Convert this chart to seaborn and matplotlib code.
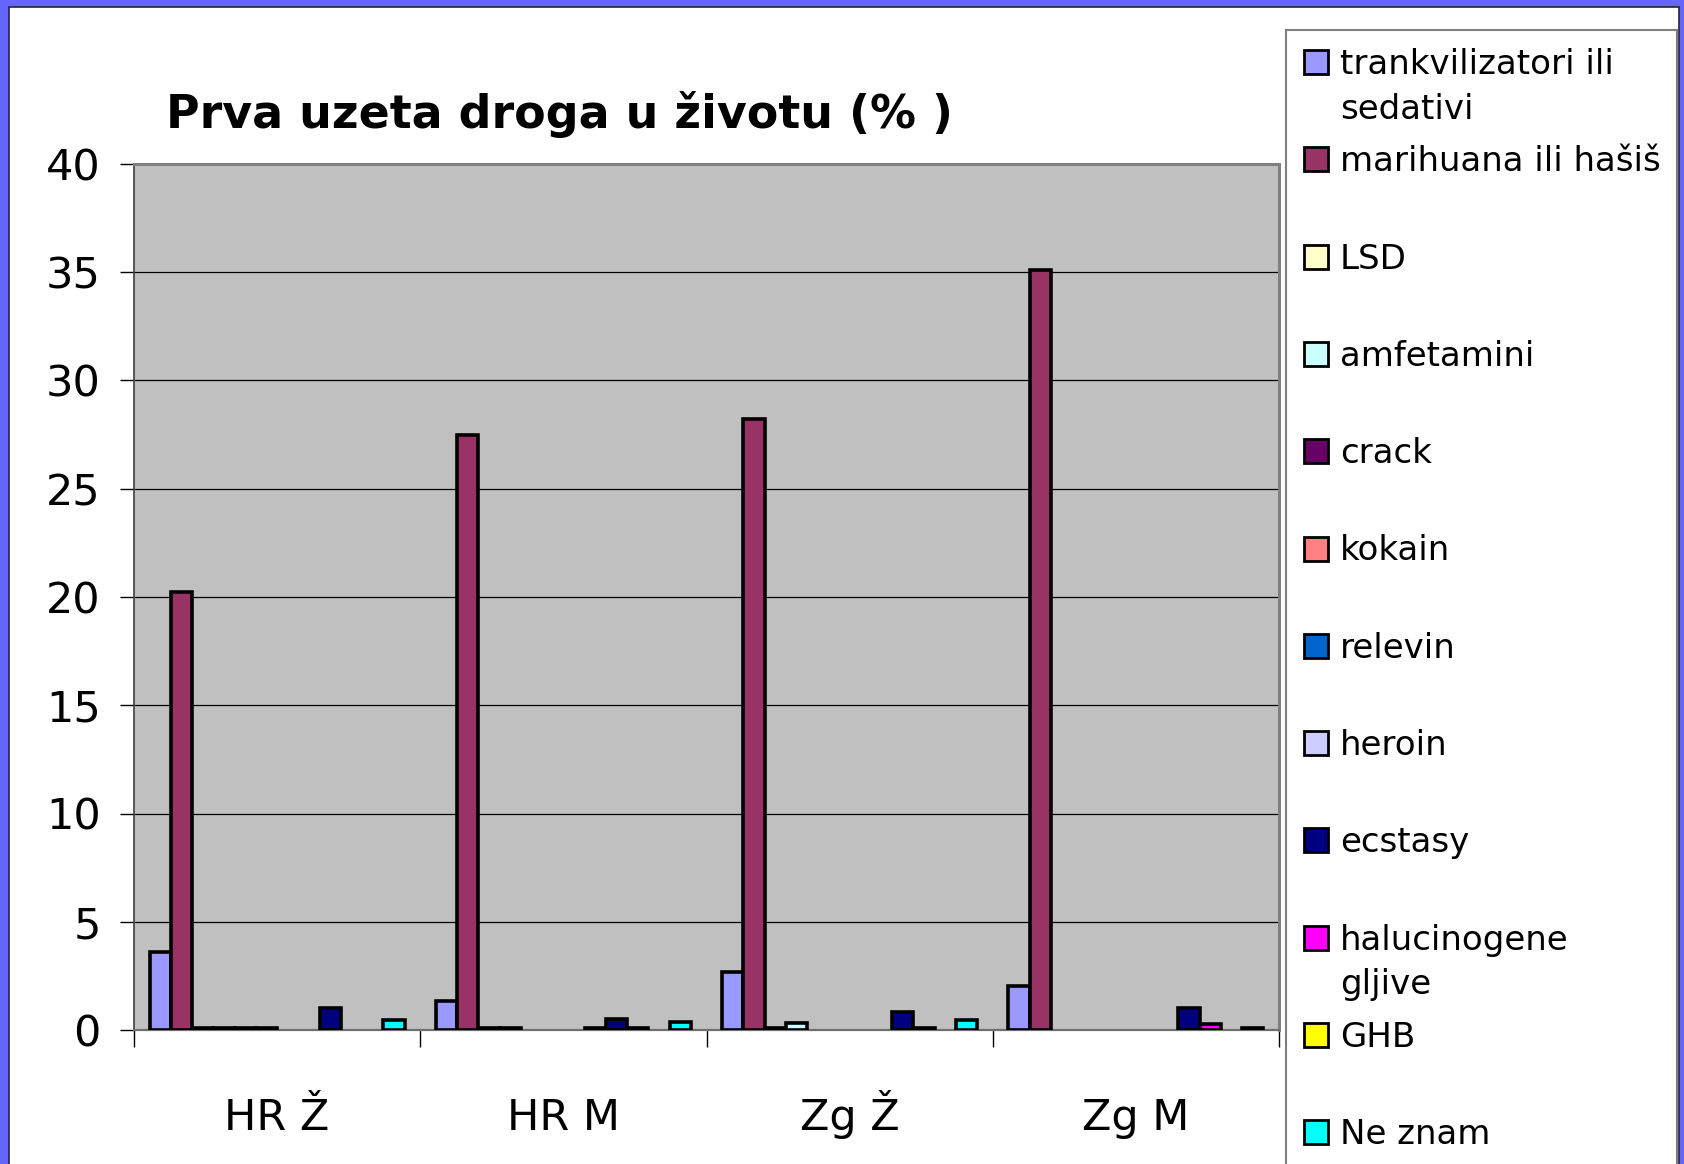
import pandas as pd
import seaborn as sns
import matplotlib.pyplot as plt
from matplotlib.patches import Rectangle

# groups on the x axis
groups = ["HR Ž", "HR M", "Zg Ž", "Zg M"]

# series (legend order) and their colours
drugs = ["trankvilizatori ili\nsedativi", "marihuana ili hašiš", "LSD", "amfetamini",
         "crack", "kokain", "relevin", "heroin", "ecstasy", "halucinogene\ngljive",
         "GHB", "Ne znam"]
colors = ["#9999FF", "#993366", "#FFFFCC", "#CCFFFF", "#660066", "#FF8080",
          "#0066CC", "#CCCCFF", "#000080", "#FF00FF", "#FFFF00", "#00FFFF"]

# percentages per drug, one value per group (HR Ž, HR M, Zg Ž, Zg M)
trankvilizatori = [3.6, 1.35, 2.7, 2.05]
marihuana = [20.25, 27.5, 28.2, 35.1]
lsd = [0.1, 0.1, 0.1, 0.0]
amfetamini = [0.1, 0.1, 0.32, 0.0]
crack = [0.1, 0.0, 0.0, 0.0]
kokain = [0.1, 0.0, 0.0, 0.0]
relevin = [0.0, 0.0, 0.0, 0.0]
heroin = [0.0, 0.1, 0.0, 0.0]
ecstasy = [1.0, 0.5, 0.85, 1.0]
halucinogene = [0.0, 0.1, 0.1, 0.3]
ghb = [0.0, 0.0, 0.0, 0.0]
ne_znam = [0.48, 0.35, 0.48, 0.1]

series = [trankvilizatori, marihuana, lsd, amfetamini, crack, kokain, relevin,
          heroin, ecstasy, halucinogene, ghb, ne_znam]

rows = []
for name, vals in zip(drugs, series):
    for g, v in zip(groups, vals):
        rows.append({"grupa": g, "droga": name, "posto": v})
df = pd.DataFrame(rows)

sns.set_style("white")
plt.rcParams["font.family"] = ["DejaVu Sans"]
plt.rcParams["text.color"] = "black"
plt.rcParams["xtick.color"] = "black"
plt.rcParams["ytick.color"] = "black"

W, H = 1684, 1164
fig = plt.figure(figsize=(W / 100, H / 100), dpi=100)
fig.patch.set_facecolor("#6666FF")
fig.add_artist(Rectangle((9 / W, -0.01), 1670 / W, 1 - 7 / H + 0.01,
                         transform=fig.transFigure, facecolor="white",
                         edgecolor="#222244", linewidth=1.2, zorder=-10))

ax = fig.add_axes([134 / W, 1 - 1030 / H, (1279 - 134) / W, (1030 - 164) / H])
ax.set_facecolor("#C0C0C0")

sns.barplot(data=df, x="grupa", y="posto", hue="droga", hue_order=drugs,
            order=groups, palette=colors, edgecolor="black", linewidth=2.6,
            width=0.89, saturation=1, legend=False, ax=ax, zorder=3)
for p in ax.patches:
    if p.get_height() == 0:
        p.set_visible(False)

ax.set_ylim(0, 40)
ax.set_xlim(-0.5, 3.5)
ax.set_yticks(range(0, 41, 5))
ax.yaxis.grid(True, color="black", linewidth=0.9, zorder=1)
ax.set_axisbelow(True)
ax.set_xlabel("")
ax.set_ylabel("")

ax.tick_params(axis="y", labelsize=31, length=10, width=1, color="black",
               direction="out", pad=14, left=True)
ax.set_xticks(range(len(groups)))
ax.set_xticklabels(groups)
ax.tick_params(axis="x", which="major", labelsize=31, length=0, pad=72)
for lab in ax.get_xticklabels():
    lab.set_va("baseline")
ax.set_xticks([-0.5, 0.5, 1.5, 2.5, 3.5], minor=True)
ax.tick_params(axis="x", which="minor", length=12, width=1, color="black",
               direction="out", bottom=True)

for side in ["top", "right"]:
    ax.spines[side].set_color("#808080")
    ax.spines[side].set_linewidth(2.2)
ax.spines["bottom"].set_color("#707070")
ax.spines["bottom"].set_linewidth(1.6)
ax.spines["left"].set_color("#404040")
ax.spines["left"].set_linewidth(1.2)

fig.text(559 / W, 1 - 114 / H, "Prva uzeta droga u životu (% )",
         fontsize=33, fontweight="bold", ha="center", va="center")

# legend box drawn by hand, cut off at the bottom like the original
fig.add_artist(Rectangle((1286 / W, -0.01), (1677 - 1286) / W, 1 - 30 / H + 0.01,
                         transform=fig.transFigure, facecolor="white",
                         edgecolor="#808080", linewidth=1.5))
for i, (name, col) in enumerate(zip(drugs, colors)):
    yc = 62 + 97.3 * i
    fig.add_artist(Rectangle((1304 / W, 1 - (yc + 12) / H), 24 / W, 24 / H,
                             transform=fig.transFigure, facecolor=col,
                             edgecolor="black", linewidth=2))
    fig.text(1340 / W, 1 - (yc - 14) / H, name, fontsize=24.5, ha="left",
             va="top", linespacing=1.45)

fig.savefig("out.png", dpi=100, facecolor=fig.get_facecolor())
